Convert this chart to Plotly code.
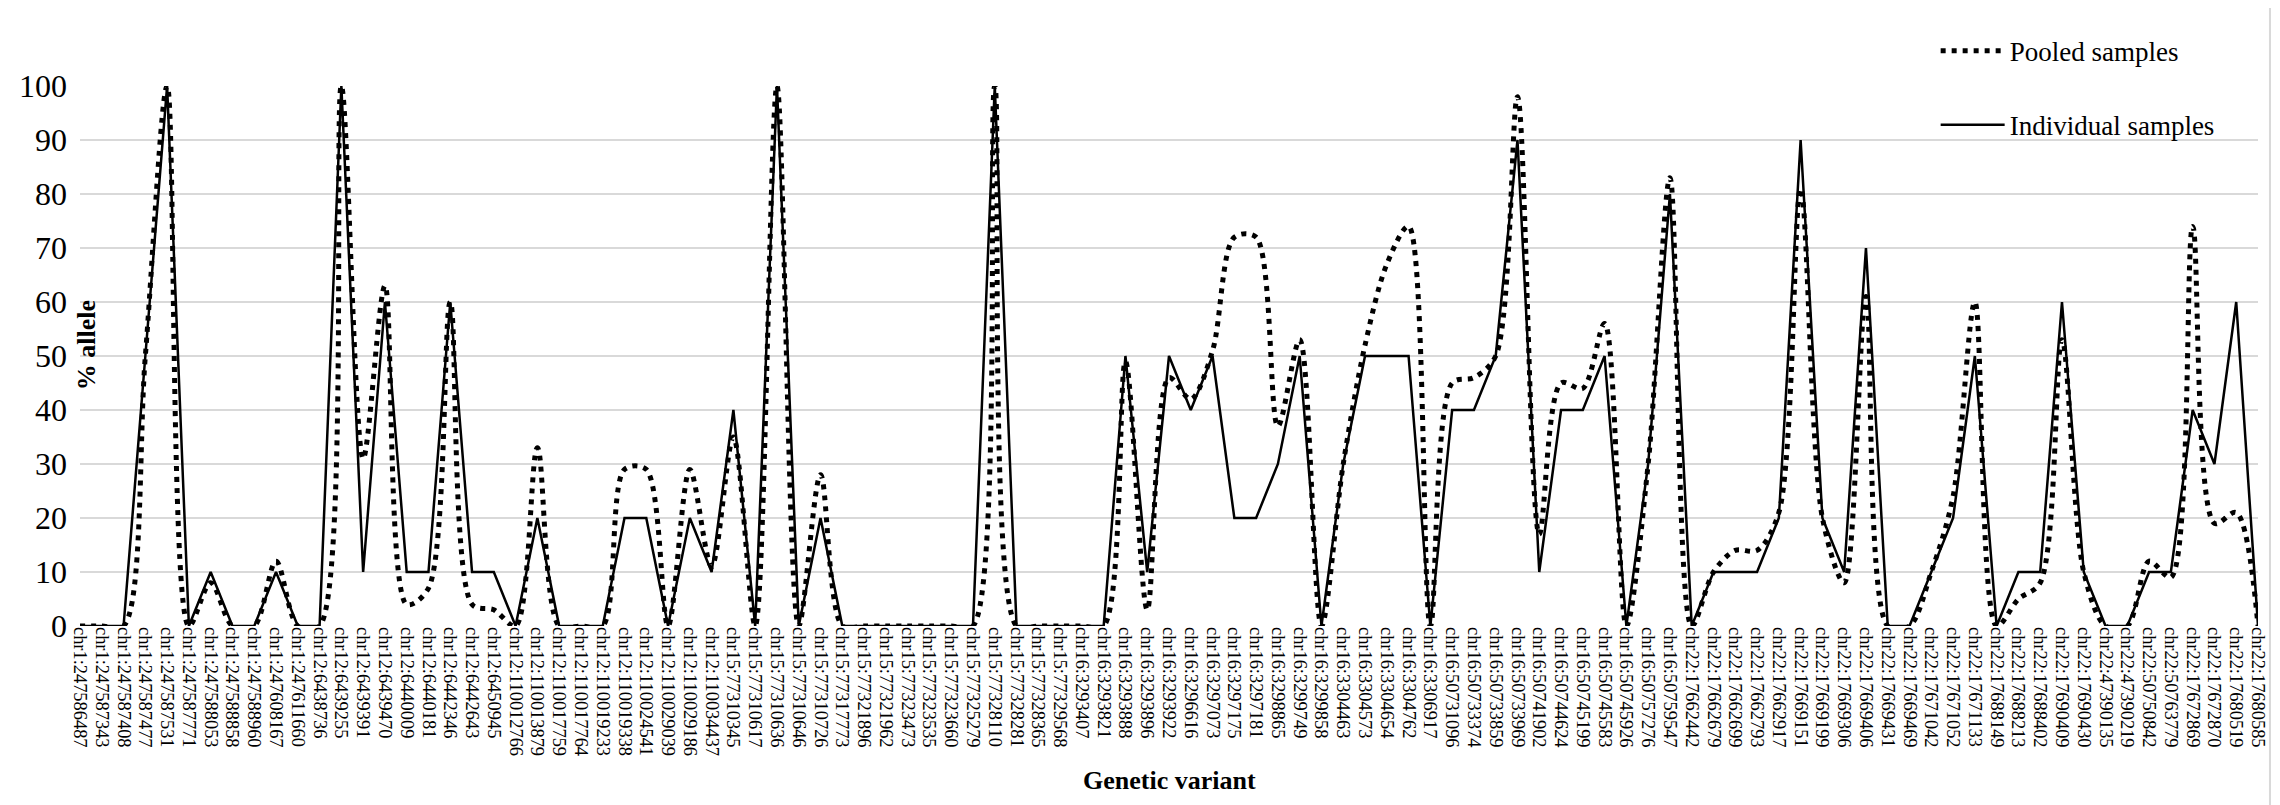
import plotly.graph_objects as go

variants = [
    "chr1:247586487", "chr1:247587343", "chr1:247587408", "chr1:247587477", "chr1:247587531",
    "chr1:247587771", "chr1:247588053", "chr1:247588858", "chr1:247588960", "chr1:247608167",
    "chr1:247611660", "chr12:6438736", "chr12:6439255", "chr12:6439391", "chr12:6439470",
    "chr12:6440009", "chr12:6440181", "chr12:6442346", "chr12:6442643", "chr12:6450945",
    "chr12:110012766", "chr12:110013879", "chr12:110017759", "chr12:110017764", "chr12:110019233",
    "chr12:110019338", "chr12:110024541", "chr12:110029039", "chr12:110029186", "chr12:110034437",
    "chr15:77310345", "chr15:77310617", "chr15:77310636", "chr15:77310646", "chr15:77310726",
    "chr15:77317773", "chr15:77321896", "chr15:77321962", "chr15:77323473", "chr15:77323535",
    "chr15:77323660", "chr15:77325279", "chr15:77328110", "chr15:77328281", "chr15:77328365",
    "chr15:77329568", "chr16:3293407", "chr16:3293821", "chr16:3293888", "chr16:3293896",
    "chr16:3293922", "chr16:3296616", "chr16:3297073", "chr16:3297175", "chr16:3297181",
    "chr16:3298865", "chr16:3299749", "chr16:3299858", "chr16:3304463", "chr16:3304573",
    "chr16:3304654", "chr16:3304762", "chr16:3306917", "chr16:50731096", "chr16:50733374",
    "chr16:50733859", "chr16:50733969", "chr16:50741902", "chr16:50744624", "chr16:50745199",
    "chr16:50745583", "chr16:50745926", "chr16:50757276", "chr16:50759547", "chr22:17662442",
    "chr22:17662679", "chr22:17662699", "chr22:17662793", "chr22:17662917", "chr22:17669151",
    "chr22:17669199", "chr22:17669306", "chr22:17669406", "chr22:17669431", "chr22:17669469",
    "chr22:17671042", "chr22:17671052", "chr22:17671133", "chr22:17688149", "chr22:17688213",
    "chr22:17688402", "chr22:17690409", "chr22:17690430", "chr22:47390135", "chr22:47390219",
    "chr22:50750842", "chr22:50763779", "chr22:17672869", "chr22:17672870", "chr22:17680519",
    "chr22:17680585",
]

pooled = [
    0, 0, 0, 50, 100, 0, 8, 0, 0, 12,
    0, 0, 100, 31, 63, 4, 7, 60, 4, 3,
    0, 33, 0, 0, 0, 29, 29, 0, 29, 11,
    35, 0, 100, 0, 28, 0, 0, 0, 0, 0,
    0, 0, 100, 0, 0, 0, 0, 0, 49, 3,
    46, 42, 51, 72, 72, 37, 53, 0, 30, 52,
    67, 74, 0, 45, 46, 50, 98, 17, 45, 44,
    56, 0, 30, 83, 0, 10, 14, 14, 21, 81,
    20, 8, 61, 0, 0, 10, 24, 60, 0, 5,
    8, 53, 10, 0, 0, 12, 9, 74, 19, 21, 0,
]

individual = [
    0, 0, 0, 50, 100, 0, 10, 0, 0, 10,
    0, 0, 100, 10, 60, 10, 10, 60, 10, 10,
    0, 20, 0, 0, 0, 20, 20, 0, 20, 10,
    40, 0, 100, 0, 20, 0, 0, 0, 0, 0,
    0, 0, 100, 0, 0, 0, 0, 0, 50, 10,
    50, 40, 50, 20, 20, 30, 50, 0, 30, 50,
    50, 50, 0, 40, 40, 50, 90, 10, 40, 40,
    50, 0, 30, 80, 0, 10, 10, 10, 20, 90,
    20, 10, 70, 0, 0, 10, 20, 50, 0, 10,
    10, 60, 10, 0, 0, 10, 10, 40, 30, 60, 0,
]

y_ticks = [0, 10, 20, 30, 40, 50, 60, 70, 80, 90, 100]

FONT = "Liberation Serif, Times New Roman, serif"

fig = go.Figure()
fig.add_trace(go.Scatter(
    x=variants, y=pooled, mode="lines", name="Pooled samples",
    legendgroup="a",
    line=dict(color="black", width=5, dash="5px,6px", shape="spline", smoothing=0.9),
))
fig.add_trace(go.Scatter(
    x=variants, y=individual, mode="lines", name="Individual samples",
    legendgroup="b",
    line=dict(color="black", width=2.5),
))

fig.update_layout(
    width=2280, height=805,
    margin=dict(l=72, r=30, t=78, b=187),
    paper_bgcolor="white", plot_bgcolor="white",
    font=dict(family=FONT, color="black"),
    showlegend=True,
    legend=dict(
        x=0.852, y=1.11, xanchor="left", yanchor="top",
        font=dict(family=FONT, size=27, color="black"),
        bgcolor="rgba(0,0,0,0)", tracegroupgap=36, traceorder="grouped",
        itemwidth=64,
    ),
    xaxis=dict(
        type="category", range=[0, 100], tickangle=90,
        tickmode="array", tickvals=variants, ticktext=variants,
        tickfont=dict(family=FONT, size=18.4, color="black"),
        showgrid=False, showline=False, zeroline=False, ticks="",
    ),
    yaxis=dict(
        range=[0, 100], tickvals=y_ticks,
        tickfont=dict(family=FONT, size=32, color="black"),
        showgrid=True, gridcolor="#d9d9d9", gridwidth=1.5,
        zeroline=False, showline=False, ticks="", ticklabelstandoff=12,
    ),
    annotations=[
        dict(text="<b>% allele</b>", xref="paper", yref="y", x=0, y=52,
             xanchor="center", yanchor="middle", textangle=-90, showarrow=False,
             xshift=6, font=dict(family=FONT, size=26, color="black")),
        dict(text="<b>Genetic variant</b>", xref="paper", yref="paper", x=0.5, y=0,
             xanchor="center", yanchor="middle", yshift=-154, showarrow=False,
             font=dict(family=FONT, size=26, color="black")),
    ],
    shapes=[
        dict(type="line", xref="paper", yref="paper", x0=1.0055, x1=1.0055,
             y0=-0.5, y1=1.2, line=dict(color="#d9d9d9", width=2)),
    ],
)

fig.write_html("out.html")
